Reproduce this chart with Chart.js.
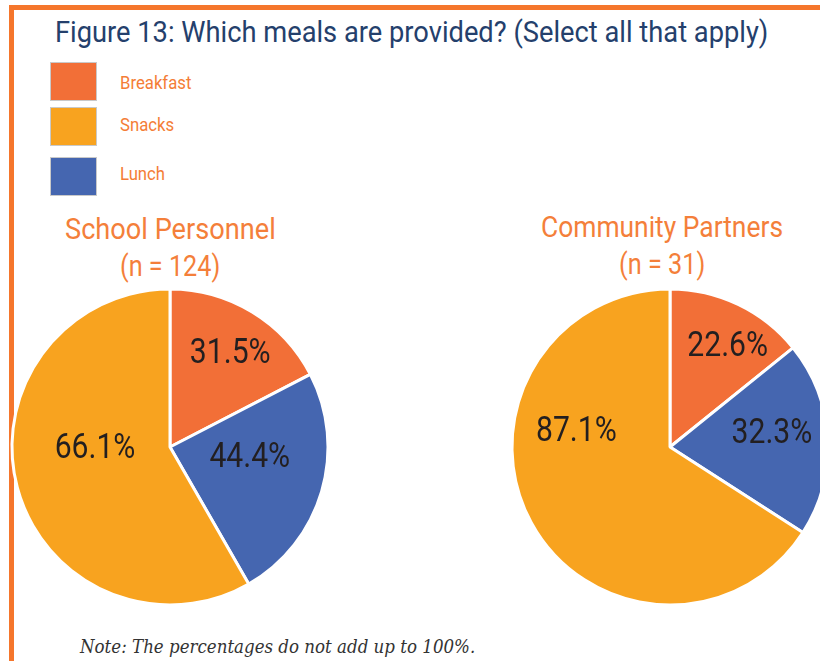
<!DOCTYPE html>
<html>
<head>
<meta charset="utf-8">
<script src="https://cdn.jsdelivr.net/npm/chart.js@4"></script>
<style>
html, body { margin: 0; padding: 0; width: 820px; height: 661px; overflow: hidden; background: #fff; }
.frame-top { position: absolute; left: 9px; top: 5px; width: 820px; height: 5px; background: #f5762c; }
.frame-left { position: absolute; left: 9px; top: 5px; width: 5px; height: 660px; background: #f5762c; }
.txt { position: absolute; white-space: nowrap; line-height: 1; font-family: Roboto, sans-serif; }
.title { color: #24406c; font-size: 29px; }
.leg { color: #f47d36; font-size: 19px; }
.sub { color: #f47f3a; font-size: 30px; }
.note { font-family: "DejaVu Serif", serif; font-style: italic; color: #333; font-size: 18px; }
.sw { position: absolute; width: 45px; height: 37px; border: 1px solid #c9c9c9; }
canvas { position: absolute; }
</style>
</head>
<body>
<div class="frame-top"></div>
<div class="frame-left"></div>

<span class="txt title" id="title" style="left:55px; top:18px">Figure 13: Which meals are provided? (Select all that apply)</span>
<div id="legend"></div>

<span class="txt sub" id="sub1" style="top:214px">School Personnel</span>
<span class="txt sub" id="n1" style="top:251px">(n = 124)</span>
<span class="txt sub" id="sub2" style="top:212px">Community Partners</span>
<span class="txt sub" id="n2" style="top:249px">(n = 31)</span>

<canvas id="school" width="330" height="330" style="left:5px; top:282px"></canvas>
<canvas id="community" width="330" height="330" style="left:505px; top:282px"></canvas>

<span class="txt note" id="note" style="left:80px; top:638px">Note: The percentages do not add up to 100%.</span>

<script>
// categories in slice order (clockwise from 12 o'clock)
const categories = ['Breakfast', 'Lunch', 'Snacks'];
const colors = ['#f26f37', '#4566b0', '#f8a31f'];
// legend order as printed
const legendOrder = ['Breakfast', 'Snacks', 'Lunch'];

// printed percentages
const schoolPct = [31.5, 44.4, 66.1];
const communityPct = [22.6, 32.3, 87.1];
// share of the circle each slice takes in the figure
const schoolShare = [17.4, 24.3, 58.3];
const communityShare = [14.2, 19.9, 65.9];

// where each percentage sits: [angle from 12 o'clock in deg, fraction of radius]
const schoolSpots = [[33, 0.70], [98, 0.51], [268, 0.475]];
const communitySpots = [[30, 0.73], [83, 0.65], [279, 0.60]];

// squeeze a text element horizontally to a target width
function fit(id, w, center) {
  const el = document.getElementById(id);
  const s = w / el.offsetWidth;
  el.style.transformOrigin = 'left top';
  el.style.transform = 'scaleX(' + s + ')';
  if (center !== undefined) el.style.left = (center - w / 2) + 'px';
}

fit('title', 713);
fit('sub1', 211, 170);
fit('n1', 100, 170);
fit('sub2', 242, 662);
fit('n2', 86, 662);
fit('note', 395);

// legend
const swatchTops = [62, 107, 157];
const labelTops = [73, 115, 164];
const legend = document.getElementById('legend');
legendOrder.forEach(function (name, i) {
  const sw = document.createElement('div');
  sw.className = 'sw';
  sw.style.left = '50px';
  sw.style.top = swatchTops[i] + 'px';
  sw.style.background = colors[categories.indexOf(name)];
  legend.appendChild(sw);
  const t = document.createElement('span');
  t.className = 'txt leg';
  t.textContent = name;
  t.style.left = '120px';
  t.style.top = labelTops[i] + 'px';
  t.style.transformOrigin = 'left top';
  t.style.transform = 'scaleX(0.88)';
  legend.appendChild(t);
});

const pctLabels = {
  id: 'pctLabels',
  afterDatasetsDraw(chart, args, opts) {
    const ctx = chart.ctx;
    const arcs = chart.getDatasetMeta(0).data;
    ctx.save();
    ctx.fillStyle = '#231f20';
    ctx.font = '35px Roboto';
    ctx.textAlign = 'center';
    ctx.textBaseline = 'middle';
    arcs.forEach(function (arc, i) {
      const a = opts.spots[i][0] * Math.PI / 180;
      const r = arc.outerRadius * opts.spots[i][1];
      const x = arc.x + r * Math.sin(a);
      const y = arc.y - r * Math.cos(a);
      ctx.save();
      ctx.translate(x, y);
      ctx.scale(0.86, 1);
      ctx.fillText(opts.values[i].toFixed(1) + '%', 0, 0);
      ctx.restore();
    });
    ctx.restore();
  }
};

function makePie(id, share, pct, spots) {
  return new Chart(document.getElementById(id), {
    type: 'pie',
    data: {
      labels: categories,
      datasets: [{
        data: share,
        backgroundColor: colors,
        borderColor: '#ffffff',
        borderWidth: 3
      }]
    },
    options: {
      responsive: false,
      animation: false,
      radius: 158,
      layout: { padding: 0 },
      plugins: {
        legend: { display: false },
        tooltip: { enabled: false },
        pctLabels: { values: pct, spots: spots }
      }
    },
    plugins: [pctLabels]
  });
}

makePie('school', schoolShare, schoolPct, schoolSpots);
makePie('community', communityShare, communityPct, communitySpots);
</script>
</body>
</html>
